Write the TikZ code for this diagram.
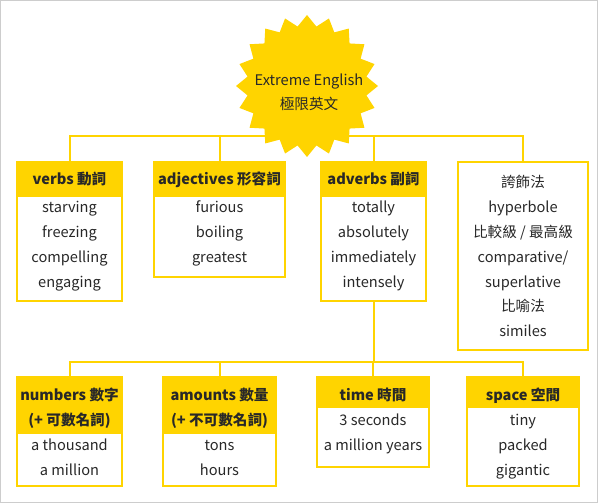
\documentclass[tikz,border=0pt]{standalone}
\usepackage{fontspec}
\setmainfont{Noto Sans CJK TC}
\usetikzlibrary{shapes.geometric}
\definecolor{ylw}{RGB}{255,212,0}
\definecolor{txt}{RGB}{40,40,40}
\definecolor{framec}{RGB}{205,205,205}
\begin{document}
\begin{tikzpicture}[x=1pt,y=-1pt,
  box/.style={draw=ylw,line width=2pt,fill=white,anchor=north west,inner sep=0pt,outer sep=0pt},
  head/.style={fill=ylw,anchor=north west,inner sep=0pt,outer sep=0pt},
  item/.style={text=txt,font=\fontsize{14.6}{16}\selectfont,inner sep=0pt,anchor=base},
  htext/.style={text=txt,font=\bfseries\fontsize{14.6}{16}\selectfont,inner sep=0pt,anchor=base},
  link/.style={draw=ylw,line width=2pt}]
\draw[framec,line width=1pt,fill=white] (0.5,0.5) rectangle (597.5,502.5);
% ---- top row boxes
\node[box,minimum width=105pt,minimum height=139pt] (verbs) at (17,162) {};
\node[head,minimum width=105pt,minimum height=35pt] (verbsh) at (17,162) {};
\node[htext] (vh) at (69.5,185) {verbs 動詞};
\node[item] (v1) at (69.5,212) {starving};
\node[item] (v2) at (69.5,237) {freezing};
\node[item] (v3) at (69.5,262) {compelling};
\node[item] (v4) at (69.5,287) {engaging};

\node[box,minimum width=131pt,minimum height=115pt] (adj) at (154,162) {};
\node[head,minimum width=131pt,minimum height=35pt] (adjh) at (154,162) {};
\node[htext] (ah) at (219.5,185) {adjectives 形容詞};
\node[item] (a1) at (219.5,212) {furious};
\node[item] (a2) at (219.5,237) {boiling};
\node[item] (a3) at (219.5,262) {greatest};

\node[box,minimum width=105pt,minimum height=139pt] (adv) at (321,162) {};
\node[head,minimum width=105pt,minimum height=35pt] (advh) at (321,162) {};
\node[htext] (dh) at (373.5,185) {adverbs 副詞};
\node[item] (d1) at (373.5,212) {totally};
\node[item] (d2) at (373.5,237) {absolutely};
\node[item] (d3) at (373.5,262) {immediately};
\node[item] (d4) at (373.5,287) {intensely};

\node[box,minimum width=130pt,minimum height=188pt] (hyp) at (458,162) {};
\node[item] (h1) at (523,187) {誇飾法};
\node[item] (h2) at (523,212) {hyperbole};
\node[item] (h3) at (523,237) {比較級 / 最高級};
\node[item] (h4) at (523,262) {comparative/};
\node[item] (h5) at (523,287) {superlative};
\node[item] (h6) at (523,311) {比喻法};
\node[item] (h7) at (523,336) {similes};

% ---- bottom row boxes
\node[box,minimum width=105pt,minimum height=109pt] (num) at (17,377) {};
\node[head,minimum width=105pt,minimum height=57pt] (numh) at (17,377) {};
\node[htext] (nh1) at (69.5,400) {numbers 數字};
\node[htext] (nh2) at (69.5,425) {(+ 可數名詞)};
\node[item] (n1) at (69.5,450) {a thousand};
\node[item] (n2) at (69.5,475) {a million};

\node[box,minimum width=113pt,minimum height=109pt] (amt) at (163,377) {};
\node[head,minimum width=113pt,minimum height=57pt] (amth) at (163,377) {};
\node[htext] (mh1) at (219.5,400) {amounts 數量};
\node[htext] (mh2) at (219.5,425) {(+ 不可數名詞)};
\node[item] (m1) at (219.5,450) {tons};
\node[item] (m2) at (219.5,475) {hours};

\node[box,minimum width=112pt,minimum height=90pt] (time) at (317,377) {};
\node[head,minimum width=112pt,minimum height=31pt] (timeh) at (317,377) {};
\node[htext] (th) at (373,400) {time 時間};
\node[item] (t1) at (373,425) {3 seconds};
\node[item] (t2) at (373,450) {a million years};

\node[box,minimum width=112pt,minimum height=109pt] (space) at (467,377) {};
\node[head,minimum width=112pt,minimum height=31pt] (spaceh) at (467,377) {};
\node[htext] (sh) at (523,400) {space 空間};
\node[item] (s1) at (523,425) {tiny};
\node[item] (s2) at (523,450) {packed};
\node[item] (s3) at (523,475) {gigantic};

% ---- connectors
\coordinate (tbar) at (308,136);
\coordinate (bbar) at (373.5,362);
\draw[link] (verbs.north) |- (tbar) -| (hyp.north);
\draw[link] (adj.north) -- (adj.north |- tbar);
\draw[link] (adv.north) -- (adv.north |- tbar);
\draw[link] (adv.south) -- (bbar);
\draw[link] (num.north) |- (bbar) -| (space.north);
\draw[link] (amt.north) -- (amt.north |- bbar);
\draw[link] (time.north) -- (time.north |- bbar);

% ---- starburst
\node[star,star points=20,star point ratio=1.18,minimum size=142pt,fill=ylw,inner sep=0pt] (root) at (307,86) {};
\node[item] (r1) at (309,86) {Extreme English};
\node[item] (r2) at (309,110) {極限英文};
\end{tikzpicture}
\end{document}
